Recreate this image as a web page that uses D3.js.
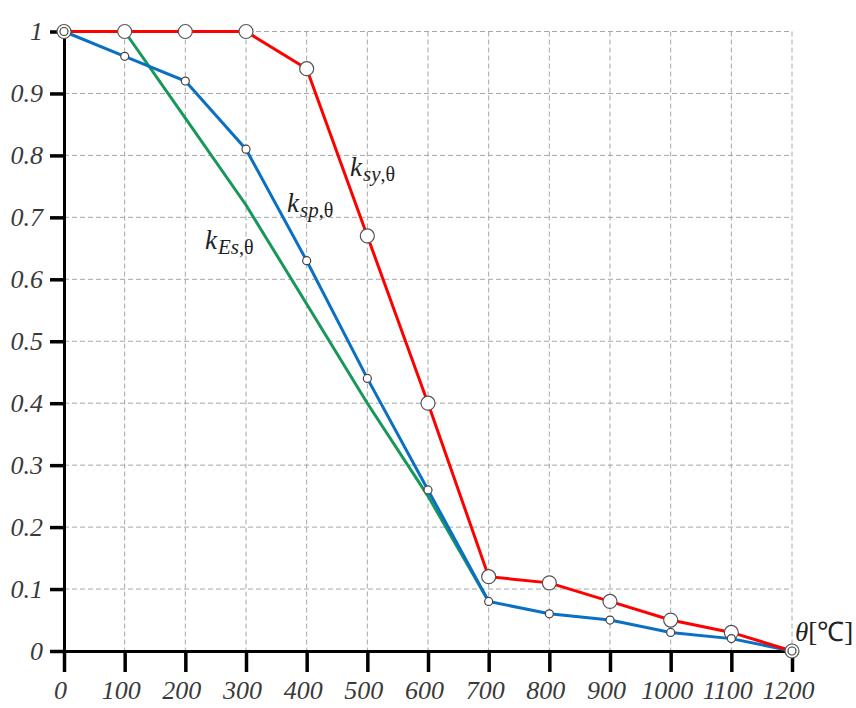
<!doctype html>
<html lang="en">
<head>
	<meta charset="UTF-8">
	<title>Reduction factors</title>
	<style>
		body { margin: 0; background: #fff; }
		.curve-label { font-family: "Liberation Serif", serif; fill: #222; }
	</style>
</head>
<body>
	<script src="https://cdn.jsdelivr.net/npm/d3@7"></script>
	<script>
		var temps = [0, 100, 200, 300, 400, 500, 600, 700, 800, 900, 1000, 1100, 1200];
		var kSy = [1, 1, 1, 1, 0.94, 0.67, 0.40, 0.12, 0.11, 0.08, 0.05, 0.03, 0];
		var kSp = [1, 0.96, 0.92, 0.81, 0.63, 0.44, 0.26, 0.08, 0.06, 0.05, 0.03, 0.02, 0];
		var kEsTemps = [100, 200, 300, 400, 500, 600, 700];
		var kEs = [1, 0.86, 0.72, 0.56, 0.40, 0.25, 0.08];
		var yTicks = [0, 0.1, 0.2, 0.3, 0.4, 0.5, 0.6, 0.7, 0.8, 0.9, 1];
		var yTickLabels = ['0', '0.1', '0.2', '0.3', '0.4', '0.5', '0.6', '0.7', '0.8', '0.9', '1'];

		var w = 856,
			h = 708;

		var svg = d3.select('body')
			.append('svg')
			.attr('width', w)
			.attr('height', h);

		var xScale = d3.scaleLinear().domain([0, 1200]).range([64, 792]);
		var yScale = d3.scaleLinear().domain([0, 1]).range([651, 31.5]);

		// dashed grid
		var grid = svg.append('g')
			.attr('stroke', '#a6a6a6')
			.attr('stroke-width', 1)
			.attr('stroke-dasharray', '5,3');

		grid.selectAll('line.v')
			.data(temps.slice(1))
			.enter()
			.append('line')
			.attr('x1', function(d) { return xScale(d); })
			.attr('x2', function(d) { return xScale(d); })
			.attr('y1', yScale(1))
			.attr('y2', yScale(0));

		grid.selectAll('line.h')
			.data(yTicks.slice(1))
			.enter()
			.append('line')
			.attr('x1', xScale(0))
			.attr('x2', xScale(1200))
			.attr('y1', function(d) { return yScale(d); })
			.attr('y2', function(d) { return yScale(d); });

		// axes
		var yAxis = d3.axisLeft(yScale)
			.tickValues(yTicks)
			.tickFormat(function(d, i) { return yTickLabels[i]; })
			.tickSizeInner(14)
			.tickSizeOuter(0)
			.tickPadding(7);

		var xAxis = d3.axisBottom(xScale)
			.tickValues(temps)
			.tickFormat(d3.format('d'))
			.tickSizeInner(21)
			.tickSizeOuter(0)
			.tickPadding(9);

		var gx = svg.append('g')
			.attr('transform', 'translate(0,' + yScale(0) + ')')
			.call(xAxis);

		var gy = svg.append('g')
			.attr('transform', 'translate(' + xScale(0) + ',0)')
			.call(yAxis);

		[gx, gy].forEach(function(g) {
			g.attr('font-family', '"Liberation Serif", serif')
				.attr('font-size', 26);
			g.select('.domain').attr('stroke', '#000').attr('stroke-width', 3);
			g.selectAll('.tick line').attr('stroke', '#000').attr('stroke-width', 3.5);
			g.selectAll('.tick text')
				.attr('font-style', 'italic')
				.attr('fill', '#3a3a3a');
		});
		gx.selectAll('.tick text').attr('dx', -4);

		// lines
		var lineGen = d3.line()
			.x(function(d) { return xScale(d[0]); })
			.y(function(d) { return yScale(d[1]); });

		var zip = function(xs, ys) {
			return xs.map(function(x, i) { return [x, ys[i]]; });
		};

		var series = [
			{ pts: zip(kEsTemps, kEs), color: '#17985a' },
			{ pts: zip(temps, kSp), color: '#0a70c4' },
			{ pts: zip(temps, kSy), color: '#ff0000' }
		];

		svg.selectAll('path.curve')
			.data(series)
			.enter()
			.append('path')
			.attr('d', function(d) { return lineGen(d.pts); })
			.attr('fill', 'none')
			.attr('stroke', function(d) { return d.color; })
			.attr('stroke-width', 3);

		// markers
		svg.selectAll('circle.sy')
			.data(zip(temps, kSy))
			.enter()
			.append('circle')
			.attr('cx', function(d) { return xScale(d[0]); })
			.attr('cy', function(d) { return yScale(d[1]); })
			.attr('r', 7)
			.attr('fill', '#fff')
			.attr('stroke', '#555')
			.attr('stroke-width', 1.2);

		svg.selectAll('circle.sp')
			.data(zip(temps, kSp))
			.enter()
			.append('circle')
			.attr('cx', function(d) { return xScale(d[0]); })
			.attr('cy', function(d) { return yScale(d[1]); })
			.attr('r', 4)
			.attr('fill', '#fff')
			.attr('stroke', '#444')
			.attr('stroke-width', 1.2);

		// curve labels
		var labels = [
			{ x: 350, y: 176, sub: 'sy' },
			{ x: 287, y: 212, sub: 'sp' },
			{ x: 205, y: 249, sub: 'Es' }
		];

		labels.forEach(function(l) {
			var t = svg.append('text')
				.attr('class', 'curve-label')
				.attr('x', l.x)
				.attr('y', l.y);
			t.append('tspan').attr('font-style', 'italic').attr('font-size', 27).text('k');
			t.append('tspan').attr('font-style', 'italic').attr('font-size', 21).attr('dy', 5).attr('dx', 1).text(l.sub);
			t.append('tspan').attr('font-size', 20).text(',θ');
		});

		var axisTitle = svg.append('text')
			.attr('class', 'curve-label')
			.attr('x', 795)
			.attr('y', 641)
			.attr('font-size', 27);
		axisTitle.append('tspan').attr('font-style', 'italic').text('θ');
		axisTitle.append('tspan').text('[℃]');
	</script>
</body>
</html>
